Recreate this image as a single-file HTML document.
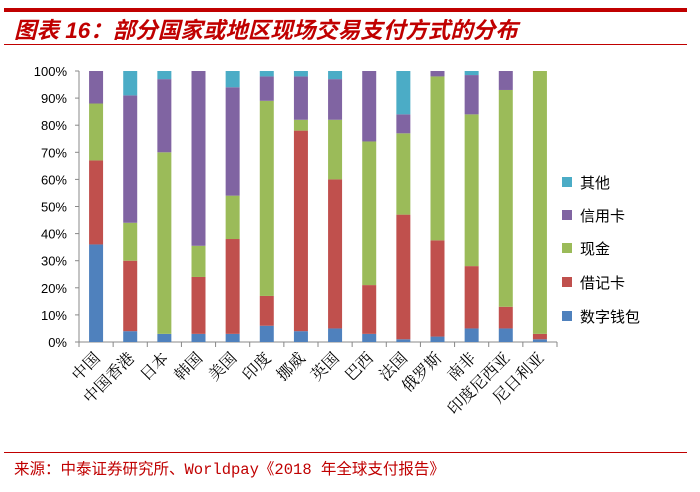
<!DOCTYPE html>
<html><head><meta charset="utf-8"><style>
body{margin:0;background:#fff;width:700px;height:487px;overflow:hidden}
</style></head><body>
<svg width="700" height="487" xmlns="http://www.w3.org/2000/svg" font-family="Liberation Sans, Noto Sans CJK SC, sans-serif">
<rect x="4" y="8" width="683" height="4" fill="#c00000"/>
<text x="14" y="38" font-size="22.5" font-weight="bold" font-style="italic" fill="#c00000" font-family="Liberation Sans, Noto Sans CJK SC, sans-serif">图表 16：部分国家或地区现场交易支付方式的分布</text>
<rect x="4" y="44" width="683" height="1" fill="#c00000"/>
<g id="axis" stroke="#888" stroke-width="1">
<line x1="79" y1="71" x2="79" y2="342"/>
<line x1="79" y1="342" x2="557" y2="342"/>
</g>
<g id="yt" font-size="13" fill="#000" text-anchor="end"></g>
<g id="bars"></g>
<g id="lab" font-size="16" fill="#000" font-family="Liberation Serif, Noto Serif CJK SC, serif"></g>
<g font-size="15" fill="#000">
<rect x="562" y="177" width="10" height="10" fill="#4bacc6"/><text x="580" y="188">其他</text>
<rect x="562" y="210" width="10" height="10" fill="#8064a2"/><text x="580" y="221">信用卡</text>
<rect x="562" y="243" width="10" height="10" fill="#9bbb59"/><text x="580" y="254">现金</text>
<rect x="562" y="277" width="10" height="10" fill="#c0504d"/><text x="580" y="288">借记卡</text>
<rect x="562" y="311" width="10" height="10" fill="#4f81bd"/><text x="580" y="322">数字钱包</text>
</g>
<rect x="4" y="452" width="683" height="1" fill="#c00000"/>
<text x="14" y="474" font-size="15.5" fill="#c00000" font-family="Liberation Mono, Noto Sans CJK SC, monospace">来源：中泰证券研究所、Worldpay《2018 年全球支付报告》</text>
</svg>
<script>
const ns="http://www.w3.org/2000/svg";
function el(t,a,p,txt){const e=document.createElementNS(ns,t);for(const k in a)e.setAttribute(k,a[k]);if(txt)e.textContent=txt;document.getElementById(p).appendChild(e);return e;}
const y0=342,y1=71,H=y0-y1;
for(let i=0;i<=10;i++){const y=y0-H*i/10;el("text",{x:67,y:y+5},"yt",(i*10)+"%");el("line",{x1:75,y1:y,x2:79,y2:y},"axis");}
const names=["中国","中国香港","日本","韩国","美国","印度","挪威","英国","巴西","法国","俄罗斯","南非","印度尼西亚","尼日利亚"];
const d=[[36,67,88,100,100],[4,30,44,91,100],[3,3,70,97,100],[3,24,35.5,100,100],[3,38,54,94,100],[6,17,89,98,100],[4,78,82,98,100],[5,60,82,97,100],[3,21,74,100,100],[1,47,77,84,100],[2,37.5,98,100,100],[5,28,84,98.5,100],[5,13,93,100,100],[1,3,100,100,100]];
const cols=["#4f81bd","#c0504d","#9bbb59","#8064a2","#4bacc6"];
const w=478/14;
for(let i=0;i<=14;i++){const x=79+w*i;el("line",{x1:x,y1:342,x2:x,y2:347},"axis");}
d.forEach((r,i)=>{const cx=79+w*(i+0.5);let prev=0;r.forEach((v,j)=>{if(v>prev){el("rect",{x:cx-7,y:y0-H*v/100,width:14,height:H*(v-prev)/100,fill:cols[j]},"bars");}prev=v;});
el("text",{x:cx+5,y:359,"text-anchor":"end",transform:`rotate(-45 ${cx+5} 359)`},"lab",names[i]);});
</script>
</body></html>
